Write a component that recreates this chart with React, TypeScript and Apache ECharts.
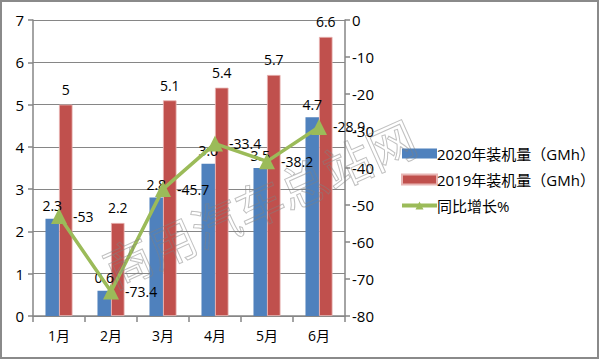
import React, { useEffect, useRef } from "react";
import * as echarts from "echarts";

const months = ["1月", "2月", "3月", "4月", "5月", "6月"];
const v2020 = [2.3, 0.6, 2.8, 3.6, 3.5, 4.7];
const v2019 = [5, 2.2, 5.1, 5.4, 5.7, 6.6];
const growth = [-53, -73.4, -45.7, -33.4, -38.2, -28.9];
const names = ["2020年装机量（GMh）", "2019年装机量（GMh）", "同比增长%"];

const FONT = "'Open Sans', 'Noto Sans CJK SC', sans-serif";

export default function App() {
  const ref = useRef<HTMLDivElement>(null);
  useEffect(() => {
    document.body.style.margin = "0";
    const chart = echarts.init(ref.current!, null, { renderer: "svg" });
    const labelStyle = { color: "#000", fontSize: 14, fontFamily: FONT };
    chart.setOption({
      animation: false,
      backgroundColor: "#fff",
      textStyle: { fontFamily: FONT },
      grid: { left: 33, right: 255, top: 20, bottom: 44, containLabel: false },
      legend: {
        orient: "vertical",
        left: 395,
        top: 141,
        itemWidth: 35,
        itemHeight: 10,
        itemGap: 11,
        textStyle: { fontSize: 15, color: "#000", fontFamily: FONT, padding: [0, 0, 0, -5] },
        data: [
          { name: names[0], icon: "rect" },
          { name: names[1], icon: "rect" },
          { name: names[2], lineStyle: { width: 4 } },
        ],
      },
      xAxis: {
        type: "category",
        data: months,
        axisLine: { lineStyle: { color: "#868686", width: 1.5 } },
        axisTick: { show: true, length: 6, lineStyle: { color: "#868686", width: 1.5 } },
        axisLabel: { color: "#000", fontSize: 14, fontFamily: FONT, margin: 12 },
      },
      yAxis: [
        {
          type: "value",
          min: 0,
          max: 7,
          interval: 1,
          axisLine: { show: true, lineStyle: { color: "#868686", width: 1.5 } },
          axisTick: { show: true, length: 5, lineStyle: { color: "#868686", width: 1.5 } },
          splitLine: { lineStyle: { color: "#868686", width: 1.2 } },
          axisLabel: { color: "#000", fontSize: 15, fontFamily: FONT, margin: 9 },
        },
        {
          type: "value",
          min: -80,
          max: 0,
          interval: 10,
          position: "right",
          axisLine: { show: true, lineStyle: { color: "#868686", width: 1.5 } },
          axisTick: { show: true, length: 5, lineStyle: { color: "#868686", width: 1.5 } },
          splitLine: { show: false },
          axisLabel: { color: "#000", fontSize: 15, fontFamily: FONT, margin: 7 },
        },
      ],
      series: [
        {
          name: names[0],
          type: "bar",
          data: v2020,
          barGap: "0%",
          barCategoryGap: "48%",
          itemStyle: { color: "#4F81BD" },
          label: { show: true, position: "top", distance: 6, ...labelStyle },
        },
        {
          name: names[1],
          type: "bar",
          data: v2019,
          itemStyle: { color: "#C0504D", borderColor: "#e8b5b4", borderWidth: 0.8 },
          label: { show: true, position: "top", distance: 8, ...labelStyle },
        },
        {
          name: names[2],
          type: "line",
          yAxisIndex: 1,
          data: growth,
          symbol: "triangle",
          symbolSize: 16,
          lineStyle: { color: "#9BBB59", width: 3.5 },
          itemStyle: { color: "#9BBB59" },
          label: { show: true, position: "right", distance: 6, ...labelStyle },
          z: 5,
        },
      ],
      graphic: [
        {
          type: "text",
          x: 115,
          y: 292,
          rotation: 0.42,
          silent: true,
          z: 100,
          style: {
            text: "商用汽车总站网",
            font: "48px 'Noto Sans CJK SC'",
            fill: "rgba(255,255,255,0)",
            stroke: "rgba(130,130,130,0.5)",
            lineWidth: 1,
            textVerticalAlign: "bottom",
          },
        },
        {
          type: "rect",
          shape: { x: 1, y: 1, width: 597, height: 357 },
          silent: true,
          style: { fill: "none", stroke: "#8a8a8a", lineWidth: 2 },
        },
      ],
    });
    return () => chart.dispose();
  }, []);
  return <div ref={ref} style={{ width: 600, height: 360 }} />;
}
